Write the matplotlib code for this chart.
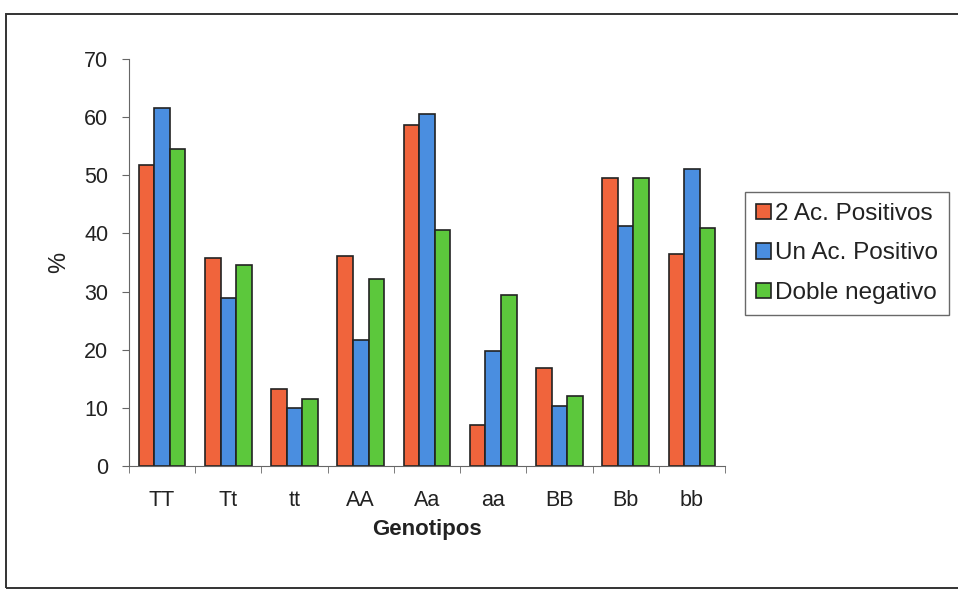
import numpy as np
import matplotlib.pyplot as plt
from matplotlib.patches import Rectangle

plt.rcParams['font.family'] = ['Liberation Sans', 'DejaVu Sans']

# Datos
genotipos = ['TT', 'Tt', 'tt', 'AA', 'Aa', 'aa', 'BB', 'Bb', 'bb']
dos_positivos = [51.7, 35.8, 13.3, 36.1, 58.7, 7.0, 16.8, 49.5, 36.5]
un_positivo = [61.6, 28.9, 10.0, 21.6, 60.5, 19.8, 10.3, 41.3, 51.0]
doble_negativo = [54.5, 34.5, 11.6, 32.1, 40.6, 29.4, 12.0, 49.5, 41.0]

series = [
    ('2 Ac. Positivos', dos_positivos, '#f0643c'),
    ('Un Ac. Positivo', un_positivo, '#4a8ee0'),
    ('Doble negativo', doble_negativo, '#5cc83c'),
]

fig = plt.figure(figsize=(9.58, 5.95), dpi=100)
ax = fig.add_axes([129 / 958, 1 - 466 / 595, 596 / 958, 407 / 595])

x = np.arange(len(genotipos))
ancho = 0.235
for i, (nombre, valores, color) in enumerate(series):
    ax.bar(x + (i - 1) * ancho, valores, ancho, color=color, edgecolor='#222222',
           linewidth=1.2, label=nombre)

ax.set_xlim(-0.5, len(genotipos) - 0.5)
ax.set_ylim(0, 70)
ax.set_yticks(range(0, 71, 10))
ax.set_xticks(x)
ax.set_xticklabels(genotipos)
ax.set_xticks(np.arange(-0.5, len(genotipos)), minor=True)
ax.tick_params(axis='x', which='major', length=0, pad=17, labelsize=15.5, labelcolor='#222222')
ax.tick_params(axis='x', which='minor', length=5, direction='out', color='#666666')
ax.tick_params(axis='y', length=5, direction='out', color='#666666', labelsize=15.5,
               pad=10, labelcolor='#222222')

for lado in ['top', 'right']:
    ax.spines[lado].set_visible(False)
for lado in ['left', 'bottom']:
    ax.spines[lado].set_color('#666666')

ax.set_xlabel('Genotipos', fontsize=16, fontweight='bold', labelpad=6, color='#222222')
ax.set_ylabel('%', fontsize=17, labelpad=10, color='#222222')

leg = fig.legend(loc='upper left', bbox_to_anchor=(745 / 958, 1 - 192 / 595),
                 fontsize=17.5, frameon=True, fancybox=False, edgecolor='#444444',
                 handlelength=0.6, handleheight=0.6, handletextpad=0.2,
                 labelspacing=0.72, borderpad=0.45, borderaxespad=0)
leg.get_frame().set_linewidth(1.0)
for texto in leg.get_texts():
    texto.set_color('#222222')

# Marco exterior
fig.patches.append(Rectangle((6 / 958, 1 - 588 / 595), 1000 / 958, 574 / 595,
                             transform=fig.transFigure, fill=False,
                             edgecolor='#333333', linewidth=1.4, clip_on=False))

fig.savefig('out.png', dpi=100)
